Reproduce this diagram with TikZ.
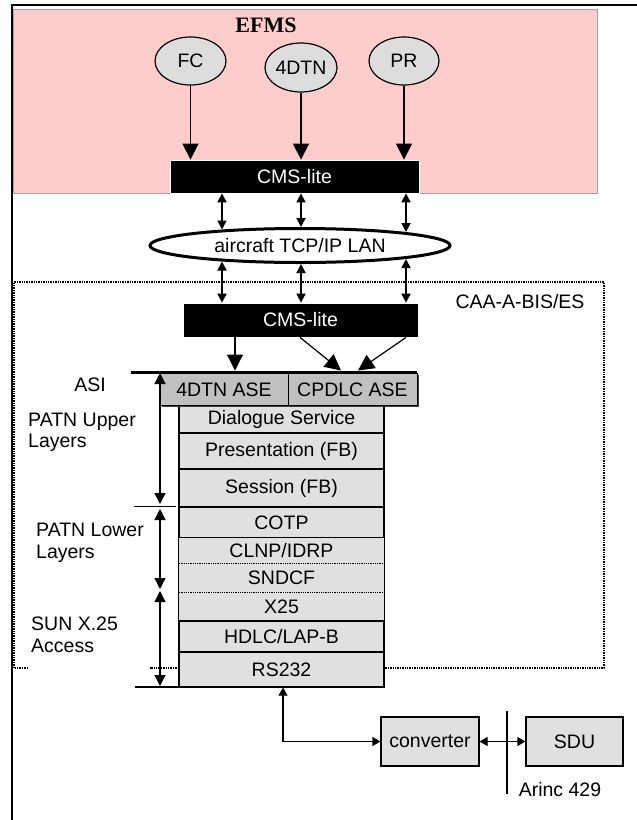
\documentclass[tikz,border=0pt]{standalone}
\usepackage{fontspec}
\setmainfont{Liberation Sans}
\newfontfamily\titlefont{Liberation Serif}
\usetikzlibrary{arrows.meta,shapes.geometric,shadows}

\definecolor{efmspink}{HTML}{FFCCCC}
\definecolor{pinkedge}{HTML}{A0A0A0}
\definecolor{bubblegray}{HTML}{DDDDDD}
\definecolor{asegray}{HTML}{C0C0C0}
\definecolor{layergray}{HTML}{E0E0E0}

\begin{document}
\begin{tikzpicture}[x=1pt,y=-1pt,
  txt/.style={font=\fontsize{19.5}{21.5}\selectfont, inner sep=0pt},
  bubble/.style={ellipse, draw, line width=1.2pt, fill=bubblegray, minimum width=70pt, minimum height=48pt, inner sep=0pt, txt},
  cmsbox/.style={rectangle, fill=black, draw=white, line width=0.8pt, text=white, txt},
  asebox/.style={rectangle, draw, line width=1pt, fill=asegray, txt,
    drop shadow={shadow xshift=1.6pt, shadow yshift=-1.6pt, fill=black!75, opacity=1}},
  layer/.style={rectangle, fill=layergray, minimum width=205pt, txt},
  framed/.style={draw, line width=1.2pt},
  unitbox/.style={rectangle, draw, line width=1.2pt, fill=layergray, txt},
  bigarr/.style={line width=1.2pt, -{Triangle[width=16pt,length=16pt]}},
  lanarr/.style={line width=1.8pt, {Triangle[width=9pt,length=9pt]}-{Triangle[width=9pt,length=9pt]}},
  sidearr/.style={line width=1.2pt, {Triangle[width=11pt,length=11pt]}-{Triangle[width=11pt,length=11pt]}},
  linkarr/.style={line width=1.2pt, {Triangle[width=9pt,length=8pt]}-{Triangle[width=9pt,length=8pt]}},
  boundary/.style={densely dotted, line width=1.4pt}
]
\useasboundingbox (0,0) rectangle (637,820);

% outer frame
\draw[line width=2pt] (12,820) -- (12,5) -- (637,5);

% EFMS area
\fill[efmspink] (13,9) rectangle (597,193);
\draw[pinkedge, line width=0.8pt] (13,9) rectangle (597,193);
\node[font=\titlefont\bfseries\fontsize{22}{24}\selectfont, inner sep=0pt] (efms) at (266,25) {EFMS};

\node[bubble, minimum width=71pt] (fc) at (190.5,61) {FC};
\node[bubble, minimum height=49pt] (dtn) at (301,67.5) {4DTN};
\node[bubble] (pr) at (404,61) {PR};

\node[cmsbox, minimum width=249pt, minimum height=33pt] (cms1) at (294.5,176.5) {CMS-lite};

\draw[bigarr] (fc.south) -- (fc.south |- cms1.north);
\draw[bigarr] (dtn.south) -- (dtn.south |- cms1.north);
\draw[bigarr] (pr.south) -- (pr.south |- cms1.north);

% LAN
\node[ellipse, draw, line width=3pt, fill=white, minimum width=300pt, minimum height=34pt, inner sep=0pt, txt] (lan) at (300,245.5) {aircraft TCP/IP LAN};

\coordinate (lanTa) at (222,229.5);
\coordinate (lanTb) at (301,227);
\coordinate (lanTc) at (406,232);
\coordinate (lanBa) at (222,261.5);
\coordinate (lanBb) at (301,264);
\coordinate (lanBc) at (406,259);

\draw[lanarr] (cms1.south -| lanTa) -- (lanTa);
\draw[lanarr] (cms1.south -| lanTb) -- (lanTb);
\draw[lanarr] (cms1.south -| lanTc) -- (lanTc);

% end system boundary
\draw[boundary] (14,668) -- (14,282) -- (604,282) -- (604,668) -- (384,668);
\draw[boundary] (179,668) -- (150,668);
\draw[boundary] (28,668) -- (14,668);
\node[txt] (caa) at (520,302) {CAA-A-BIS/ES};

\node[cmsbox, minimum width=235pt, minimum height=34pt] (cms2) at (300.5,320) {CMS-lite};

\draw[lanarr] (lanBa) -- (lanBa |- cms2.north);
\draw[lanarr] (lanBb) -- (lanBb |- cms2.north);
\draw[lanarr] (lanBc) -- (lanBc |- cms2.north);

% protocol stack
\node[layer, minimum height=28pt, framed] (ds) at (281.5,419) {Dialogue Service};
\node[layer, minimum height=36pt, framed] (pres) at (281.5,451) {Presentation (FB)};
\node[layer, minimum height=38pt, framed] (sess) at (281.5,488) {Session (FB)};
\node[layer, minimum height=31pt, framed] (cotp) at (281.5,522.5) {COTP};
\node[layer, minimum height=25pt] (clnp) at (281.5,550.5) {CLNP/IDRP};
\node[layer, minimum height=29pt] (sndcf) at (281.5,577.5) {SNDCF};
\node[layer, minimum height=29pt] (xtf) at (281.5,606.5) {X25};
\draw[line width=1.2pt] (clnp.north west) rectangle (xtf.south east);
\draw[densely dotted, line width=0.8pt] (clnp.south west) -- (clnp.south east);
\draw[densely dotted, line width=0.8pt] (sndcf.south west) -- (sndcf.south east);
\node[layer, minimum height=31pt, framed] (hdlc) at (281.5,636.5) {HDLC/LAP-B};
\node[layer, minimum height=35pt, framed] (rs) at (281.5,669.5) {RS232};

% application service elements
\node[asebox, minimum width=128pt, minimum height=32pt] (ase4) at (224,389.5) {4DTN ASE};
\node[asebox, minimum width=129pt, minimum height=32pt] (asec) at (352.5,389.5) {CPDLC ASE};

% ASI line
\coordinate (asiL) at (131,372);
\coordinate (asiR) at (417,372);
\draw[line width=3pt] (asiL) -- (asiR);

\coordinate (tipA) at (235,370.5);
\coordinate (tipB) at (341,370.5);
\coordinate (tipC) at (358,370.5);
\draw[bigarr] (cms2.south -| tipA) -- (tipA);
\draw[bigarr] (cms2.south -| 300,0) -- (tipB);
\draw[bigarr] (cms2.south -| 406,0) -- (tipC);

% layer grouping on the left
\coordinate (gA) at (160,373);
\coordinate (gB) at (160,504);
\coordinate (gC) at (160,509);
\coordinate (gD) at (160,589);
\coordinate (gE) at (160,591);
\coordinate (gF) at (160,686);
\draw[sidearr] (gA) -- (gB);
\draw[sidearr] (gC) -- (gD);
\draw[sidearr] (gE) -- (gF);
\draw[line width=1.2pt] (134,506.5) -- (176,506.5);
\draw[line width=1.2pt] (135,687) -- (178,687);

\node[txt] (asi) at (90,385) {ASI};
\node[txt, align=left, anchor=west] (upper) at (28,432.5) {PATN Upper\\Layers};
\node[txt, align=left, anchor=west] (lower) at (36,543) {PATN Lower\\Layers};
\node[txt, align=left, anchor=west] (sun) at (31,635) {SUN X.25\\Access};

% external units
\node[unitbox, minimum width=98pt, minimum height=49pt] (conv) at (430,741.5) {converter};
\node[unitbox, minimum width=97pt, minimum height=49pt] (sdu) at (574.5,741.5) {SDU};

\draw[linkarr] (rs.south -| 283,0) |- (conv.west);
\draw[linkarr] (conv.east) -- (sdu.west);

\coordinate (busT) at (507,711);
\coordinate (busB) at (507,794);
\draw[line width=1.2pt] (busT) -- (busB);
\node[txt] (arinc) at (560,790) {Arinc 429};
\end{tikzpicture}
\end{document}
